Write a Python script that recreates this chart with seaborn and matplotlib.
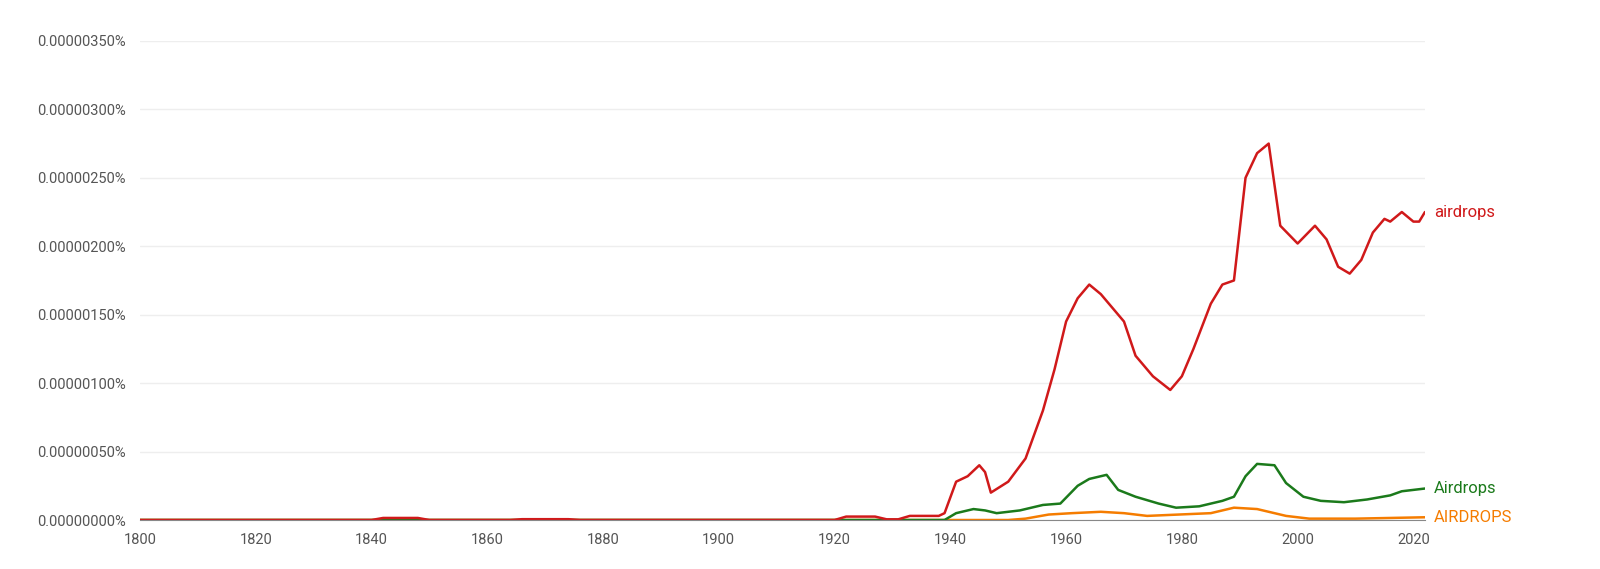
import matplotlib
matplotlib.use("Agg")
import matplotlib.pyplot as plt
import matplotlib.ticker as mticker
import pandas as pd
import seaborn as sns

# values in units of 1e-8 percent
red_years = [1800, 1840, 1842, 1848, 1850, 1864, 1866, 1874, 1876, 1920, 1922, 1927, 1929, 1931, 1933,
             1938, 1939, 1941, 1943, 1945, 1946, 1947, 1950, 1953, 1956, 1958, 1960, 1962, 1964, 1966,
             1968, 1970, 1972, 1975, 1978, 1980, 1982, 1985, 1987, 1989, 1991, 1993, 1995, 1997, 2000,
             2003, 2005, 2007, 2009, 2011, 2013, 2015, 2016, 2018, 2020, 2021, 2022]
red_vals = [0, 0, 1.5, 1.5, 0, 0, 0.6, 0.6, 0, 0, 2.5, 2.5, 0.5, 0.5, 3,
            3, 5, 28, 32, 40, 35, 20, 28, 45, 80, 110, 145, 162, 172, 165,
            155, 145, 120, 105, 95, 105, 125, 158, 172, 175, 250, 268, 275, 215, 202,
            215, 205, 185, 180, 190, 210, 220, 218, 225, 218, 218, 225]

green_years = [1800, 1939, 1941, 1944, 1946, 1948, 1952, 1956, 1959, 1962, 1964, 1967, 1969, 1972,
               1976, 1979, 1983, 1987, 1989, 1991, 1993, 1996, 1998, 2001, 2004, 2008, 2012, 2016,
               2018, 2022]
green_vals = [0, 0, 5, 8, 7, 5, 7, 11, 12, 25, 30, 33, 22, 17,
              12, 9, 10, 14, 17, 32, 41, 40, 27, 17, 14, 13, 15, 18,
              21, 23]

orange_years = [1800, 1950, 1953, 1957, 1961, 1966, 1970, 1974, 1985, 1989, 1993, 1998, 2002, 2010, 2022]
orange_vals = [0, 0, 1, 4, 5, 6, 5, 3, 5, 9, 8, 3, 1, 1, 2]

series = [("airdrops", red_years, red_vals, "#d0191a"),
          ("Airdrops", green_years, green_vals, "#1b7a1b"),
          ("AIRDROPS", orange_years, orange_vals, "#f57c00")]

sns.set_style("white")
plt.rcParams['font.family'] = ['Roboto', 'DejaVu Sans']

fig = plt.figure(figsize=(16, 5.69), dpi=100)
ax = fig.add_axes([0.0875, 0.0861, 0.8031, 0.842])

for name, yrs, vals, col in reversed(series):
    df = pd.DataFrame({"year": yrs, "value": [v * 1e-8 for v in vals]})
    sns.lineplot(data=df, x="year", y="value", color=col, linewidth=1.8, ax=ax)
    ax.text(2023.5, df["value"].iloc[-1], name, color=col, fontsize=12, va="center", ha="left")

ax.set_xlim(1800, 2022)
ax.set_ylim(0, 3.5e-6)
ax.set_xticks(range(1800, 2021, 20))
ax.set_yticks([i * 0.5e-6 for i in range(8)])
ax.yaxis.set_major_formatter(mticker.FuncFormatter(lambda v, p: f"{v:.8f}%"))
ax.grid(axis="y", color="#eeeeee", linewidth=1)
for s in ["top", "right", "left"]:
    ax.spines[s].set_visible(False)
ax.spines["bottom"].set_color("#888888")
ax.tick_params(axis="both", colors="#555555", labelsize=10.5, length=6, width=1)
ax.tick_params(axis="y", length=6, pad=4)
ax.set_xlabel("")
ax.set_ylabel("")

fig.savefig("out.png", dpi=100)
